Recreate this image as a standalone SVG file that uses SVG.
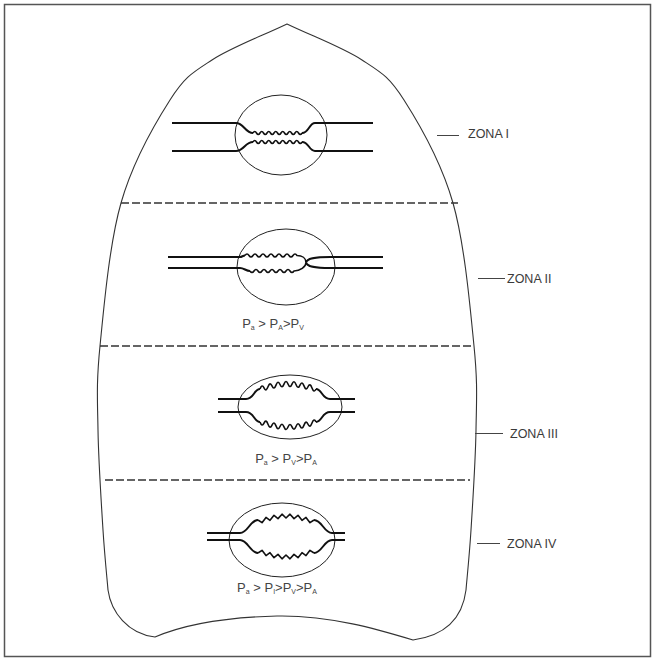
<svg xmlns="http://www.w3.org/2000/svg" width="655" height="661" viewBox="0 0 655 661">
  <style>
    .frame { fill: none; stroke: #555; stroke-width: 1.5; }
    .outline { fill: none; stroke: #333; stroke-width: 1.1; }
    .sep { fill: none; stroke: #333; stroke-width: 1.5; stroke-dasharray: 8 3; }
    .vessel { fill: none; stroke: #111; stroke-width: 2; stroke-linejoin: round; stroke-linecap: butt; }
    .wave { fill: none; stroke: #111; stroke-width: 1.6; stroke-linejoin: round; }
    .alv { fill: none; stroke: #222; stroke-width: 1; }
    .leader { fill: none; stroke: #444; stroke-width: 1; }
    .zone { font-family: "Liberation Sans", Arial, sans-serif; font-size: 12.5px; fill: #3a3a3a; }
    .eq { font-family: "Liberation Sans", Arial, sans-serif; font-size: 13px; fill: #444; text-anchor: middle; }
    .sub { font-size: 7px; }
  </style>

  <!-- picture frame -->
  <rect class="frame" x="4.5" y="4.5" width="646" height="652"/>

  <!-- lung silhouette -->
  <g id="lung">
    <path class="outline" d="M155 637 C128 634 111 612 108 590 C107 578 104.7 556.7 103 530 C101.3 503.3 98.5 460.7 98 430 C97.5 399.3 96.2 383.8 100 346 C103.8 308.2 109.3 244 121 203 C132.7 162 154.8 123.8 170 100 C185.2 76.2 192.5 72.7 212 60 C231.5 47.3 262 36 287 24 C312 36 342.5 47.3 362 60 C381.5 72.7 388.8 76.2 404 100 C419.2 123.8 441.3 162 453 203 C464.7 244 470.2 308.2 474 346 C477.8 383.8 476.5 399.3 476 430 C475.5 460.7 472.7 503.3 471 530 C469.3 556.7 467 578 466 590 C462 622 442 636 413 640 C380 630 330 615 277 616 C235 617 190 622 155 637 Z"/>
  </g>

  <!-- zone separators -->
  <g id="separators">
    <line class="sep" x1="121" y1="203" x2="458" y2="203"/>
    <line class="sep" x1="100" y1="346" x2="474" y2="346"/>
    <line class="sep" x1="105" y1="480" x2="470" y2="480"/>
  </g>

  <!-- zone I: capillary collapsed -->
  <g id="zone1">
    <ellipse class="alv" cx="281" cy="135" rx="46" ry="40"/>
    <path class="vessel" d="M172 123 H236 C244 123 245 133 253 133"/>
    <path class="wave" d="M253 133 q1.75 -3 3.5 0 t3.5 0 t3.5 0 t3.5 0 t3.5 0 t3.5 0 t3.5 0 t3.5 0 t3.5 0 t3.5 0 t3.5 0 t3.5 0 t3.5 0 t3.5 0"/>
    <path class="vessel" d="M302 133 C309 133 309 123 315 123 H373"/>
    <path class="vessel" d="M172 151 H236 C244 151 245 142 253 142"/>
    <path class="wave" d="M253 142 q1.75 -3 3.5 0 t3.5 0 t3.5 0 t3.5 0 t3.5 0 t3.5 0 t3.5 0 t3.5 0 t3.5 0 t3.5 0 t3.5 0 t3.5 0 t3.5 0 t3.5 0"/>
    <path class="vessel" d="M302 142 C309 142 309 151 315 151 H373"/>
  </g>

  <!-- zone II: capillary pinched at venous end -->
  <g id="zone2">
    <ellipse class="alv" cx="286" cy="267" rx="49" ry="38"/>
    <path class="vessel" d="M168 257 H240 C242 257 243 255.5 245 255.5"/>
    <path class="wave" d="M245 255.5 q2 -3 4 0 t4 0 t4 0 t4 0 t4 0 t4 0 t4 0 t4 0 t4 0 t4 0 t4 0 t4 0 t4 0 C302 255.5 306 258 306 262.5"/>
    <path class="vessel" d="M306 262.5 C307 258.5 314 257 330 257 H383"/>
    <path class="vessel" d="M168 268 H240 C244 268 246 271 250 271"/>
    <path class="wave" d="M250 271 q2 3 4 0 t4 0 t4 0 t4 0 t4 0 t4 0 t4 0 t4 0 t4 0 t4 0 t4 0 C300 271 306 267 306 262.5"/>
    <path class="vessel" d="M306 262.5 C307 266.5 314 268 330 268 H383"/>
    <text class="eq" x="273" y="328">P<tspan class="sub" dy="2">a</tspan><tspan dy="-2"> &gt; P</tspan><tspan class="sub" dy="2">A</tspan><tspan dy="-2">&gt;P</tspan><tspan class="sub" dy="2">V</tspan></text>
  </g>

  <!-- zone III: capillary distended -->
  <g id="zone3">
    <ellipse class="alv" cx="290" cy="407" rx="52" ry="32"/>
    <path class="vessel" d="M218 399 H246 C254 399 254 389 260 389"/>
    <path class="wave" d="M260 389 Q262 383.5 264 387.9 Q266 392.4 268 386.8 Q270 381.4 272 385.9 Q274 390.5 276 385.1 Q278 379.8 280 384.5 Q282 389.3 284 384.1 Q286 379 288 384 Q290 389 292 384.1 Q294 379.3 296 384.5 Q298 389.8 300 385.1 Q302 380.5 304 385.9 Q306 391.4 308 386.8 Q310 382.4 312 387.9 Q314 393.5 316 389"/>
    <path class="vessel" d="M316 389 C322 389 322 399 330 399 H355"/>
    <path class="vessel" d="M218 412 H246 C254 412 254 422 260 422"/>
    <path class="wave" d="M260 422 Q262 427.5 264 423.1 Q266 418.6 268 424.2 Q270 429.6 272 425.1 Q274 420.5 276 425.9 Q278 431.2 280 426.5 Q282 421.7 284 426.9 Q286 432 288 427 Q290 422 292 426.9 Q294 431.7 296 426.5 Q298 421.2 300 425.9 Q302 430.5 304 425.1 Q306 419.6 308 424.2 Q310 428.6 312 423.1 Q314 417.5 316 422"/>
    <path class="vessel" d="M316 422 C322 422 322 412 330 412 H355"/>
    <text class="eq" x="286" y="463">P<tspan class="sub" dy="2">a</tspan><tspan dy="-2"> &gt; P</tspan><tspan class="sub" dy="2">V</tspan><tspan dy="-2">&gt;P</tspan><tspan class="sub" dy="2">A</tspan></text>
  </g>

  <!-- zone IV: capillary distended, interstitial pressure -->
  <g id="zone4">
    <ellipse class="alv" cx="282" cy="540" rx="53" ry="37"/>
    <path class="vessel" d="M207 533 H240 C248 533 250 520 258 520"/>
    <path class="wave" d="M258 520 L262 522.7 L266 517.4 L270 520.3 L274 515.3 L278 518.6 L282 514.2 L286 518 L290 514.2 L294 518.6 L298 515.3 L302 520.3 L306 517.4 L310 522.7 L314 520"/>
    <path class="vessel" d="M314 520 C322 520 324 533 332 533 H345"/>
    <path class="vessel" d="M207 540 H240 C248 540 250 553 258 553"/>
    <path class="wave" d="M258 553 L262 550.3 L266 555.6 L270 552.7 L274 557.7 L278 554.4 L282 558.8 L286 555 L290 558.8 L294 554.4 L298 557.7 L302 552.7 L306 555.6 L310 550.3 L314 553"/>
    <path class="vessel" d="M314 553 C322 553 324 540 332 540 H345"/>
    <text class="eq" x="277" y="592">P<tspan class="sub" dy="2">a</tspan><tspan dy="-2"> &gt; P</tspan><tspan class="sub" dy="2">I</tspan><tspan dy="-2">&gt;P</tspan><tspan class="sub" dy="2">V</tspan><tspan dy="-2">&gt;P</tspan><tspan class="sub" dy="2">A</tspan></text>
  </g>

  <!-- zone labels and their leader lines -->
  <g id="connectors">
    <line class="leader" x1="437" y1="135.5" x2="459" y2="135.5"/>
    <line class="leader" x1="478" y1="278.5" x2="505" y2="278.5"/>
    <line class="leader" x1="475" y1="433.5" x2="503" y2="433.5"/>
    <line class="leader" x1="477" y1="543.5" x2="500" y2="543.5"/>
  </g>
  <g id="label-zona-1"><text class="zone" x="468" y="138">ZONA I</text></g>
  <g id="label-zona-2"><text class="zone" x="507" y="283">ZONA II</text></g>
  <g id="label-zona-3"><text class="zone" x="510" y="438">ZONA III</text></g>
  <g id="label-zona-4"><text class="zone" x="507" y="548">ZONA IV</text></g>
</svg>
